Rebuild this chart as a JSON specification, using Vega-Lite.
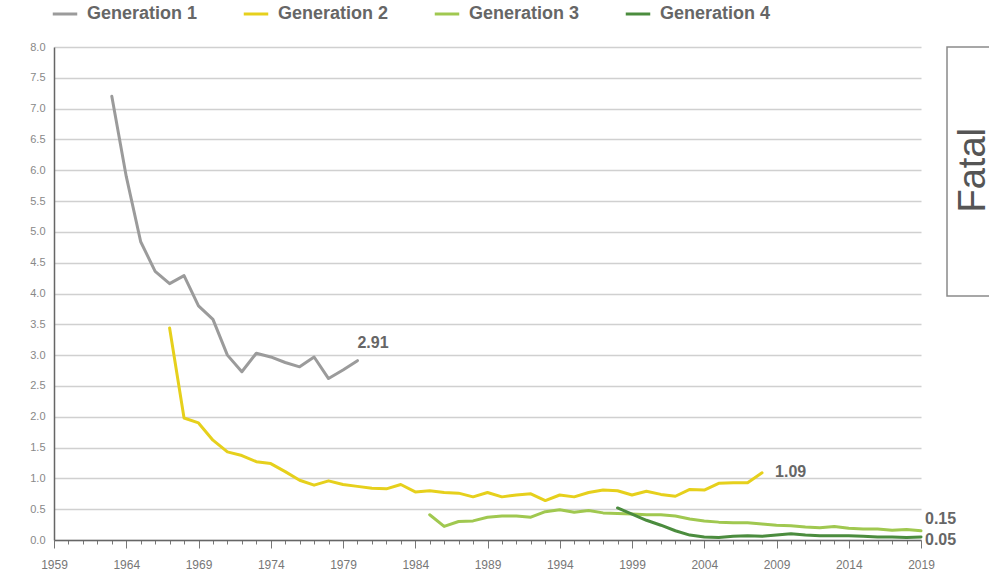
{
  "$schema": "https://vega.github.io/schema/vega-lite/v6.json",
  "width": 867,
  "height": 493,
  "autosize": {"type": "none"},
  "padding": {"left": 54, "top": 47, "right": 68, "bottom": 36},
  "background": "white",
  "config": {"view": {"stroke": null}, "font": "Liberation Sans", "axis": {"labelOverlap": false, "labelFlush": false}},
  "datasets": {
    "series": [
      {"generation": "Generation 1", "year": 1963, "rate": 7.20},
      {"generation": "Generation 1", "year": 1964, "rate": 5.90},
      {"generation": "Generation 1", "year": 1965, "rate": 4.84},
      {"generation": "Generation 1", "year": 1966, "rate": 4.36},
      {"generation": "Generation 1", "year": 1967, "rate": 4.16},
      {"generation": "Generation 1", "year": 1968, "rate": 4.29},
      {"generation": "Generation 1", "year": 1969, "rate": 3.80},
      {"generation": "Generation 1", "year": 1970, "rate": 3.58},
      {"generation": "Generation 1", "year": 1971, "rate": 3.00},
      {"generation": "Generation 1", "year": 1972, "rate": 2.73},
      {"generation": "Generation 1", "year": 1973, "rate": 3.03},
      {"generation": "Generation 1", "year": 1974, "rate": 2.97},
      {"generation": "Generation 1", "year": 1975, "rate": 2.88},
      {"generation": "Generation 1", "year": 1976, "rate": 2.81},
      {"generation": "Generation 1", "year": 1977, "rate": 2.97},
      {"generation": "Generation 1", "year": 1978, "rate": 2.62},
      {"generation": "Generation 1", "year": 1979, "rate": 2.76},
      {"generation": "Generation 1", "year": 1980, "rate": 2.91},
      {"generation": "Generation 2", "year": 1967, "rate": 3.44},
      {"generation": "Generation 2", "year": 1968, "rate": 1.98},
      {"generation": "Generation 2", "year": 1969, "rate": 1.90},
      {"generation": "Generation 2", "year": 1970, "rate": 1.62},
      {"generation": "Generation 2", "year": 1971, "rate": 1.43},
      {"generation": "Generation 2", "year": 1972, "rate": 1.37},
      {"generation": "Generation 2", "year": 1973, "rate": 1.27},
      {"generation": "Generation 2", "year": 1974, "rate": 1.24},
      {"generation": "Generation 2", "year": 1975, "rate": 1.11},
      {"generation": "Generation 2", "year": 1976, "rate": 0.97},
      {"generation": "Generation 2", "year": 1977, "rate": 0.89},
      {"generation": "Generation 2", "year": 1978, "rate": 0.96},
      {"generation": "Generation 2", "year": 1979, "rate": 0.90},
      {"generation": "Generation 2", "year": 1980, "rate": 0.87},
      {"generation": "Generation 2", "year": 1981, "rate": 0.84},
      {"generation": "Generation 2", "year": 1982, "rate": 0.83},
      {"generation": "Generation 2", "year": 1983, "rate": 0.90},
      {"generation": "Generation 2", "year": 1984, "rate": 0.78},
      {"generation": "Generation 2", "year": 1985, "rate": 0.80},
      {"generation": "Generation 2", "year": 1986, "rate": 0.77},
      {"generation": "Generation 2", "year": 1987, "rate": 0.76},
      {"generation": "Generation 2", "year": 1988, "rate": 0.70},
      {"generation": "Generation 2", "year": 1989, "rate": 0.77},
      {"generation": "Generation 2", "year": 1990, "rate": 0.70},
      {"generation": "Generation 2", "year": 1991, "rate": 0.73},
      {"generation": "Generation 2", "year": 1992, "rate": 0.75},
      {"generation": "Generation 2", "year": 1993, "rate": 0.64},
      {"generation": "Generation 2", "year": 1994, "rate": 0.73},
      {"generation": "Generation 2", "year": 1995, "rate": 0.70},
      {"generation": "Generation 2", "year": 1996, "rate": 0.77},
      {"generation": "Generation 2", "year": 1997, "rate": 0.81},
      {"generation": "Generation 2", "year": 1998, "rate": 0.80},
      {"generation": "Generation 2", "year": 1999, "rate": 0.73},
      {"generation": "Generation 2", "year": 2000, "rate": 0.79},
      {"generation": "Generation 2", "year": 2001, "rate": 0.74},
      {"generation": "Generation 2", "year": 2002, "rate": 0.71},
      {"generation": "Generation 2", "year": 2003, "rate": 0.82},
      {"generation": "Generation 2", "year": 2004, "rate": 0.81},
      {"generation": "Generation 2", "year": 2005, "rate": 0.92},
      {"generation": "Generation 2", "year": 2006, "rate": 0.93},
      {"generation": "Generation 2", "year": 2007, "rate": 0.93},
      {"generation": "Generation 2", "year": 2008, "rate": 1.09},
      {"generation": "Generation 3", "year": 1985, "rate": 0.41},
      {"generation": "Generation 3", "year": 1986, "rate": 0.22},
      {"generation": "Generation 3", "year": 1987, "rate": 0.30},
      {"generation": "Generation 3", "year": 1988, "rate": 0.31},
      {"generation": "Generation 3", "year": 1989, "rate": 0.37},
      {"generation": "Generation 3", "year": 1990, "rate": 0.39},
      {"generation": "Generation 3", "year": 1991, "rate": 0.39},
      {"generation": "Generation 3", "year": 1992, "rate": 0.37},
      {"generation": "Generation 3", "year": 1993, "rate": 0.46},
      {"generation": "Generation 3", "year": 1994, "rate": 0.49},
      {"generation": "Generation 3", "year": 1995, "rate": 0.45},
      {"generation": "Generation 3", "year": 1996, "rate": 0.48},
      {"generation": "Generation 3", "year": 1997, "rate": 0.44},
      {"generation": "Generation 3", "year": 1998, "rate": 0.43},
      {"generation": "Generation 3", "year": 1999, "rate": 0.42},
      {"generation": "Generation 3", "year": 2000, "rate": 0.41},
      {"generation": "Generation 3", "year": 2001, "rate": 0.41},
      {"generation": "Generation 3", "year": 2002, "rate": 0.39},
      {"generation": "Generation 3", "year": 2003, "rate": 0.34},
      {"generation": "Generation 3", "year": 2004, "rate": 0.31},
      {"generation": "Generation 3", "year": 2005, "rate": 0.29},
      {"generation": "Generation 3", "year": 2006, "rate": 0.28},
      {"generation": "Generation 3", "year": 2007, "rate": 0.28},
      {"generation": "Generation 3", "year": 2008, "rate": 0.26},
      {"generation": "Generation 3", "year": 2009, "rate": 0.24},
      {"generation": "Generation 3", "year": 2010, "rate": 0.23},
      {"generation": "Generation 3", "year": 2011, "rate": 0.21},
      {"generation": "Generation 3", "year": 2012, "rate": 0.20},
      {"generation": "Generation 3", "year": 2013, "rate": 0.22},
      {"generation": "Generation 3", "year": 2014, "rate": 0.19},
      {"generation": "Generation 3", "year": 2015, "rate": 0.18},
      {"generation": "Generation 3", "year": 2016, "rate": 0.18},
      {"generation": "Generation 3", "year": 2017, "rate": 0.16},
      {"generation": "Generation 3", "year": 2018, "rate": 0.17},
      {"generation": "Generation 3", "year": 2019, "rate": 0.15},
      {"generation": "Generation 4", "year": 1998, "rate": 0.52},
      {"generation": "Generation 4", "year": 1999, "rate": 0.42},
      {"generation": "Generation 4", "year": 2000, "rate": 0.32},
      {"generation": "Generation 4", "year": 2001, "rate": 0.24},
      {"generation": "Generation 4", "year": 2002, "rate": 0.15},
      {"generation": "Generation 4", "year": 2003, "rate": 0.08},
      {"generation": "Generation 4", "year": 2004, "rate": 0.05},
      {"generation": "Generation 4", "year": 2005, "rate": 0.04},
      {"generation": "Generation 4", "year": 2006, "rate": 0.06},
      {"generation": "Generation 4", "year": 2007, "rate": 0.07},
      {"generation": "Generation 4", "year": 2008, "rate": 0.06},
      {"generation": "Generation 4", "year": 2009, "rate": 0.08},
      {"generation": "Generation 4", "year": 2010, "rate": 0.10},
      {"generation": "Generation 4", "year": 2011, "rate": 0.08},
      {"generation": "Generation 4", "year": 2012, "rate": 0.07},
      {"generation": "Generation 4", "year": 2013, "rate": 0.07},
      {"generation": "Generation 4", "year": 2014, "rate": 0.07},
      {"generation": "Generation 4", "year": 2015, "rate": 0.06},
      {"generation": "Generation 4", "year": 2016, "rate": 0.05},
      {"generation": "Generation 4", "year": 2017, "rate": 0.05},
      {"generation": "Generation 4", "year": 2018, "rate": 0.04},
      {"generation": "Generation 4", "year": 2019, "rate": 0.05}
    ],
    "labels": [
      {"generation": "Generation 1", "year": 1980, "rate": 2.91, "label": "2.91"},
      {"generation": "Generation 2", "year": 2008, "rate": 1.09, "label": "1.09"},
      {"generation": "Generation 3", "year": 2019, "rate": 0.15, "label": "0.15"},
      {"generation": "Generation 4", "year": 2019, "rate": 0.05, "label": "0.05"}
    ]
  },
  "layer": [
    {
      "data": {"name": "series"},
      "mark": {"type": "line", "strokeWidth": 3, "strokeJoin": "round", "strokeCap": "round"},
      "encoding": {
        "x": {
          "field": "year", "type": "quantitative", "title": null,
          "scale": {"domain": [1959, 2019], "nice": false, "zero": false},
          "axis": {
            "values": [1959,1960,1961,1962,1963,1964,1965,1966,1967,1968,1969,1970,1971,1972,1973,1974,1975,1976,1977,1978,1979,1980,1981,1982,1983,1984,1985,1986,1987,1988,1989,1990,1991,1992,1993,1994,1995,1996,1997,1998,1999,2000,2001,2002,2003,2004,2005,2006,2007,2008,2009,2010,2011,2012,2013,2014,2015,2016,2017,2018,2019],
            "tickCount": 200,
            "format": "d",
            "labelExpr": "(datum.value - 1959) % 5 === 0 ? datum.label : ''",
            "labelOverlap": false,
            "labelFlush": false,
            "grid": false,
            "domainColor": "#666666",
            "domainWidth": 1.5,
            "tickColor": "#777777",
            "tickWidth": 1,
            "tickSize": {"condition": {"test": "(datum.value - 1959) % 5 === 0", "value": 8}, "value": 4},
            "labelColor": "#777777",
            "labelFontSize": 12,
            "labelPadding": 11
          }
        },
        "y": {
          "field": "rate", "type": "quantitative", "title": null,
          "scale": {"domain": [0, 8], "nice": false},
          "axis": {
            "values": [0,0.5,1,1.5,2,2.5,3,3.5,4,4.5,5,5.5,6,6.5,7,7.5,8],
            "tickCount": 100,
            "format": ".1f",
            "labelOverlap": false,
            "grid": true,
            "gridColor": "#d0d0d0",
            "gridWidth": 1.5,
            "ticks": false,
            "domainColor": "#666666",
            "domainWidth": 1.5,
            "labelColor": "#888888",
            "labelFontSize": 11,
            "labelPadding": 9
          }
        },
        "color": {
          "field": "generation", "type": "nominal", "title": null,
          "scale": {
            "domain": ["Generation 1", "Generation 2", "Generation 3", "Generation 4"],
            "range": ["#9b9b9b", "#e6d01c", "#a0c850", "#4b8c3e"]
          },
          "legend": {
            "orient": "none",
            "legendX": -3,
            "legendY": -47,
            "direction": "horizontal",
            "columns": 4,
            "gridAlign": "all",
            "columnPadding": 39,
            "symbolType": "stroke",
            "symbolStrokeWidth": 3,
            "symbolSize": 600,
            "labelOffset": 8,
            "labelFontSize": 18,
            "labelFontWeight": "bold",
            "labelColor": "#666666",
            "labelFont": "Liberation Sans"
          }
        }
      }
    },
    {
      "data": {"values": [{}]},
      "mark": {"type": "rect", "fill": "transparent", "stroke": "#8a8a8a", "strokeWidth": 1.5},
      "encoding": {
        "x": {"datum": 2020.8, "type": "quantitative", "title": null},
        "x2": {"datum": 2027},
        "y": {"datum": 8.0, "type": "quantitative", "title": null},
        "y2": {"datum": 3.96}
      }
    },
    {
      "data": {"values": [{}]},
      "mark": {"type": "text", "text": "Fatal", "angle": 270, "fontSize": 38, "color": "#555555", "align": "center", "baseline": "middle", "font": "Liberation Sans"},
      "encoding": {
        "x": {"datum": 2022.7, "type": "quantitative", "title": null},
        "y": {"datum": 6.0, "type": "quantitative", "title": null}
      }
    },
    {
      "data": {"name": "labels"},
      "transform": [{"filter": "datum.generation === 'Generation 1'"}],
      "mark": {"type": "text", "align": "left", "baseline": "middle", "dx": 0, "dy": -18, "fontSize": 16, "fontWeight": "bold", "color": "#666666"},
      "encoding": {
        "x": {"field": "year", "type": "quantitative", "title": null},
        "y": {"field": "rate", "type": "quantitative", "title": null},
        "text": {"field": "label"}
      }
    },
    {
      "data": {"name": "labels"},
      "transform": [{"filter": "datum.generation === 'Generation 2'"}],
      "mark": {"type": "text", "align": "left", "baseline": "middle", "dx": 13, "dy": -1, "fontSize": 16, "fontWeight": "bold", "color": "#666666"},
      "encoding": {
        "x": {"field": "year", "type": "quantitative", "title": null},
        "y": {"field": "rate", "type": "quantitative", "title": null},
        "text": {"field": "label"}
      }
    },
    {
      "data": {"name": "labels"},
      "transform": [{"filter": "datum.generation === 'Generation 3'"}],
      "mark": {"type": "text", "align": "left", "baseline": "middle", "dx": 4, "dy": -12, "fontSize": 16, "fontWeight": "bold", "color": "#666666"},
      "encoding": {
        "x": {"field": "year", "type": "quantitative", "title": null},
        "y": {"field": "rate", "type": "quantitative", "title": null},
        "text": {"field": "label"}
      }
    },
    {
      "data": {"name": "labels"},
      "transform": [{"filter": "datum.generation === 'Generation 4'"}],
      "mark": {"type": "text", "align": "left", "baseline": "middle", "dx": 4, "dy": 3, "fontSize": 16, "fontWeight": "bold", "color": "#666666"},
      "encoding": {
        "x": {"field": "year", "type": "quantitative", "title": null},
        "y": {"field": "rate", "type": "quantitative", "title": null},
        "text": {"field": "label"}
      }
    }
  ]
}
